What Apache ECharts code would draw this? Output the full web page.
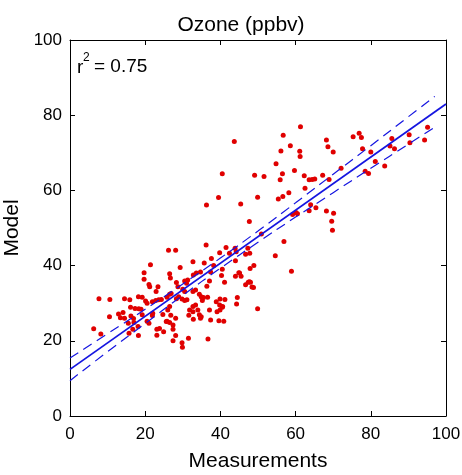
<!DOCTYPE html>
<html>
<head>
<meta charset="utf-8">
<script src="https://cdn.jsdelivr.net/npm/echarts@6/dist/echarts.min.js"></script>
<style>html,body{margin:0;padding:0;background:#fff}#c{width:462px;height:475px}</style>
</head>
<body>
<div id="c"></div>
<script>
var chartTitle = 'Ozone (ppbv)';
var xName = 'Measurements';
var yName = 'Model';
var r2Text = '0.75';
var xTicks = [0, 20, 40, 60, 80, 100];
var yTicks = [0, 20, 40, 60, 80, 100];

// Measured / modelled pairs [measurement, model]
var points = [
[6.3,23.2],[8.2,21.8],[7.7,31.2],[10.6,31.0],[10.5,26.4],[12.9,27.1],[14.1,27.5],[13.4,26.1],[14.5,26.0],[14.5,31.2],
[15.9,30.9],[16.1,28.9],[17.3,28.6],[18.3,28.5],[18.9,28.4],[18.2,31.7],[19.2,31.6],[17.0,24.9],[18.1,23.8],[15.7,22.0],
[18.2,21.4],[16.7,23.1],[15.5,24.7],[16.2,26.6],[16.9,25.9],[19.2,26.9],[19.7,38.1],[19.7,36.4],
[21.4,40.2],[21.0,35.0],[21.2,34.4],[23.4,34.4],[22.9,33.1],[26.5,37.8],[26.7,36.7],[29.3,39.5],[26.2,44.1],[28.1,44.1],
[20.1,30.6],[20.5,30.0],[21.9,30.4],[22.8,30.7],[23.6,30.9],[24.3,31.0],[20.5,25.2],[21.0,24.7],[21.9,26.7],[22.0,27.3],
[23.1,23.1],[23.8,23.3],[23.1,21.5],[24.9,22.4],[25.6,25.1],[24.7,27.0],[26.0,28.2],[26.5,29.1],[25.8,31.6],[26.5,32.4],
[26.9,32.6],[28.3,31.2],[28.9,31.7],[29.8,31.1],[28.3,35.5],[28.7,34.4],[27.4,24.2],[27.4,23.1],[28.1,21.4],[27.4,20.0],
[29.8,19.5],[29.9,18.3],[28.1,26.0],[26.5,24.9],[26.8,26.8],[25.8,25.2],
[30.5,30.7],[31.1,30.9],[30.5,35.9],[31.3,36.2],[31.0,35.3],[32.7,33.1],[33.4,33.5],[32.8,37.5],[33.6,38.0],[32.7,41.0],
[31.5,20.7],[31.8,28.2],[32.7,27.7],[34.0,28.2],[31.6,26.8],[32.8,25.7],[30.0,33.7],[30.5,33.1],[32.7,29.1],[33.4,29.5],
[34.4,26.9],[34.9,26.4],[34.7,26.0],[35.2,30.7],[35.5,31.5],[34.9,31.7],[36.6,31.6],[34.4,32.4],[37.1,35.9],[36.4,34.5],
[34.7,38.3],[35.7,40.7],[37.6,41.9],[38.2,40.0],[37.4,38.3],[39.8,43.4],[36.7,20.5],[37.4,25.5],[39.1,27.7],[37.1,28.2],
[39.9,28.2],[38.9,30.4],[39.9,31.1],[39.8,29.5],[36.3,56.1],[39.5,58.1],[36.2,45.5],
[40.6,29.1],[40.9,25.2],[39.6,25.3],[41.1,35.6],[40.3,37.4],[40.5,39.0],[42.4,43.3],[44.2,43.7],[44.0,41.3],[46.7,43.0],
[44.0,37.2],[44.9,38.1],[45.5,37.2],[45.1,38.0],[44.3,29.8],[44.5,31.5],[41.2,31.0],[46.7,34.9],[47.4,35.6],[47.7,35.7],
[48.4,34.3],[48.8,34.2],[47.9,39.2],[48.9,40.0],[47.8,43.3],[41.5,44.8],[43.9,44.6],[47.3,44.6],[48.0,35.6],[49.9,28.5],
[40.5,64.4],[43.7,73.0],[45.4,56.4],[49.9,58.2],[49.1,64.0],[47.7,51.7],[40.5,28.9],
[50.9,48.4],[51.6,63.7],[54.6,42.6],[56.9,46.4],[58.9,38.5],[54.8,67.1],[56.5,64.4],[55.9,62.8],[59.7,65.3],[56.1,70.5],
[56.7,74.7],[58.6,71.9],[55.4,57.7],[56.6,58.4],[58.2,59.4],[59.2,53.6],[60.1,54.1],[60.5,53.8],
[61.3,76.9],[61.1,70.4],[61.2,69.0],[62.3,63.9],[63.6,62.8],[64.4,62.9],[65.1,63.0],[67.2,64.0],[68.9,62.9],[62.5,60.6],
[68.2,73.4],[68.6,71.6],[70.0,70.2],[64.0,56.2],[65.4,55.4],[63.6,54.6],[68.2,54.5],[70.1,53.9],[69.6,51.8],[69.8,49.4],
[72.1,65.9],[75.3,74.3],[76.9,75.2],[77.5,74.1],[77.8,71.1],[78.5,65.1],[79.4,64.5],[80.0,70.2],[81.2,67.7],[83.7,66.5],
[85.6,73.8],[85.1,71.8],[86.3,71.1],[90.2,74.8],[90.4,72.7],[94.3,73.4],[95.1,76.8]
];

// Regression line end points and confidence band
var fitX = [0, 100];
var fitY = [12.4, 83.0];
var bandX = [0, 10, 20, 30, 40, 50, 60, 70, 80, 90, 97];
var bandUpper = [15.4, 21.9, 28.4, 35.1, 42.0, 49.2, 56.7, 64.3, 71.9, 79.6, 85.0];
var bandLower = [9.4, 17.1, 24.6, 32.1, 39.3, 46.2, 52.9, 59.4, 65.9, 72.3, 76.8];

var FONT = 'Arial, "Liberation Sans", Helvetica, sans-serif';
var BLUE = '#1515e0';
var RED = '#e00000';

function pairs(xs, ys) { return xs.map(function (x, i) { return [x, ys[i]]; }); }

var chart = echarts.init(document.getElementById('c'), null, { renderer: 'canvas' });

var baseAxis = {
  min: 0, max: 100, interval: 20,
  axisLine: { show: true, onZero: false, lineStyle: { color: '#000', width: 1 } },
  axisTick: { show: true, inside: true, length: 5, lineStyle: { color: '#000', width: 1 } },
  splitLine: { show: false }
};

chart.setOption({
  animation: false,
  backgroundColor: '#fff',
  title: {
    text: chartTitle, left: 236, top: 10, textAlign: 'center',
    textStyle: { fontFamily: FONT, fontSize: 21, fontWeight: 'normal', color: '#000' }
  },
  grid: { left: 70, right: 16, top: 40, bottom: 59, show: false, containLabel: false, outerBoundsMode: 'none' },
  xAxis: [
    Object.assign({}, baseAxis, {
      type: 'value', position: 'bottom',
      name: xName, nameLocation: 'middle', nameGap: 35,
      nameTextStyle: { fontFamily: FONT, fontSize: 21, color: '#000' },
      axisLabel: { margin: 10, fontFamily: FONT, fontSize: 17, color: '#000',
        formatter: function (v) { return xTicks.indexOf(v) >= 0 ? String(v) : ''; } }
    }),
    Object.assign({}, baseAxis, { type: 'value', position: 'top', axisLabel: { show: false } })
  ],
  yAxis: [
    Object.assign({}, baseAxis, {
      type: 'value', position: 'left',
      name: yName, nameLocation: 'middle', nameGap: 42,
      nameTextStyle: { fontFamily: FONT, fontSize: 21, color: '#000' },
      axisLabel: { margin: 8, fontFamily: FONT, fontSize: 17, color: '#000',
        formatter: function (v) { return yTicks.indexOf(v) >= 0 ? String(v) : ''; } }
    }),
    Object.assign({}, baseAxis, { type: 'value', position: 'right', axisLabel: { show: false } })
  ],
  graphic: [
    { type: 'text', left: 77, top: 58, style: { text: 'r', font: '19px ' + FONT, fill: '#000' } },
    { type: 'text', left: 83, top: 52, style: { text: '2', font: '12px ' + FONT, fill: '#000' } },
    { type: 'text', left: 94, top: 57, style: { text: '= ' + r2Text, font: '19px ' + FONT, fill: '#000' } }
  ],
  series: [
    {
      type: 'scatter', data: points, symbol: 'circle', symbolSize: 5,
      itemStyle: { color: RED, opacity: 1 }, z: 2
    },
    {
      type: 'line', data: pairs(bandX, bandUpper), smooth: true, symbol: 'none',
      lineStyle: { color: BLUE, width: 1.2, type: [10, 6] }, z: 3
    },
    {
      type: 'line', data: pairs(bandX, bandLower), smooth: true, symbol: 'none',
      lineStyle: { color: BLUE, width: 1.2, type: [10, 6] }, z: 3
    },
    {
      type: 'line', data: pairs(fitX, fitY), symbol: 'none',
      lineStyle: { color: BLUE, width: 1.8 }, z: 4
    }
  ]
});
</script>
</body>
</html>
